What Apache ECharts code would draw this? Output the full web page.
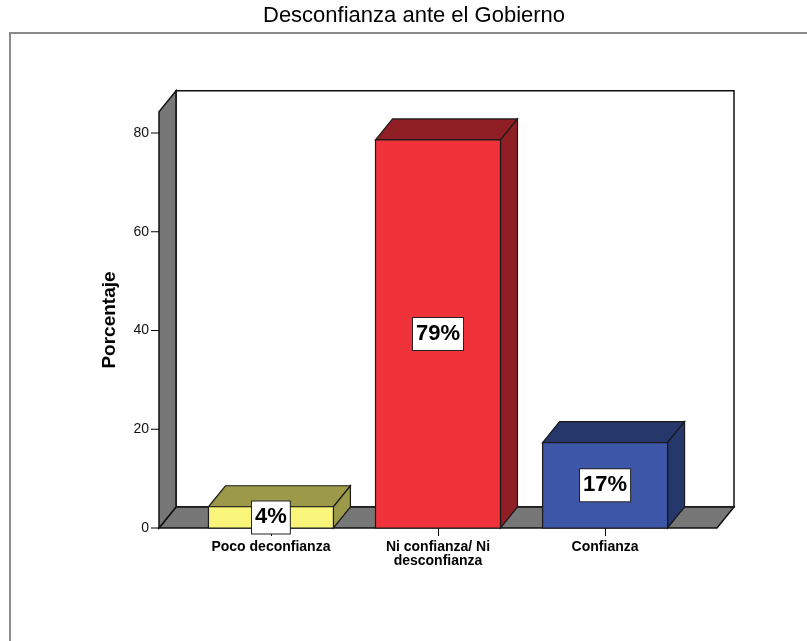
<!DOCTYPE html>
<html>
<head>
<meta charset="utf-8">
<title>Desconfianza ante el Gobierno</title>
<script src="https://cdn.jsdelivr.net/npm/echarts@6/dist/echarts.min.js"></script>
<style>
  html, body { margin: 0; padding: 0; background: #fff; }
  #chart { width: 807px; height: 641px; }
</style>
</head>
<body>
<div id="chart"></div>
<script>
// datos
var categorias = ['Poco deconfianza', 'Ni confianza/ Ni\ndesconfianza', 'Confianza'];
var porcentajes = [4.3, 78.6, 17.3];
var ticksY = [0, 20, 40, 60, 80];

var colorFrente = ['#f8f57a', '#f0333b', '#3e56a8'];
var colorLado = ['#9c9a48', '#8f1f24', '#26376b'];

var FONT = 'Liberation Sans, Arial, sans-serif';
var DX = 17, DY = -21;        // profundidad 3D (px)
var X_MIN = -0.67, X_MAX = 2.67;
var TECHO = 84.3;             // altura de las paredes (por encima del eje)
var MEDIO = 0.374;            // media anchura de barra

var chart = echarts.init(document.getElementById('chart'));

function mover(p) {
  return [p[0] + DX, p[1] + DY];
}

// pared del fondo, suelo, pared izquierda y marcas del eje Y
function dibujarCaja(params, api) {
  var a = api.coord([X_MIN, 0]);
  var b = api.coord([X_MAX, 0]);
  var c = api.coord([X_MIN, TECHO]);
  var a2 = mover(a), b2 = mover(b), c2 = mover(c);
  var hijos = [
    {
      type: 'rect',
      shape: { x: c2[0], y: c2[1], width: b2[0] - c2[0], height: b2[1] - c2[1] },
      style: { fill: '#fff', stroke: '#111', lineWidth: 1.5 }
    },
    {
      type: 'polygon',
      shape: { points: [a, b, b2, a2] },
      style: { fill: '#777', stroke: '#111', lineWidth: 1.5 }
    },
    {
      type: 'polygon',
      shape: { points: [a, a2, c2, c] },
      style: { fill: '#777', stroke: '#111', lineWidth: 1.5 }
    }
  ];
  ticksY.forEach(function (t) {
    var p = api.coord([X_MIN, t]);
    hijos.push({
      type: 'line',
      shape: { x1: p[0] - 8, y1: p[1], x2: p[0], y2: p[1] },
      style: { stroke: '#000', lineWidth: 1 }
    });
  });
  return { type: 'group', children: hijos };
}

function dibujarBarra(params, api) {
  var i = api.value(0), v = api.value(1);
  var p1 = api.coord([i - MEDIO, v]);
  var p2 = api.coord([i + MEDIO, v]);
  var p3 = api.coord([i + MEDIO, 0]);
  var p4 = api.coord([i - MEDIO, 0]);
  var borde = { stroke: '#1a1a1a', lineWidth: 1.2 };
  return {
    type: 'group',
    children: [
      {
        type: 'polygon',
        shape: { points: [p1, p2, mover(p2), mover(p1)] },
        style: Object.assign({ fill: colorLado[i] }, borde)
      },
      {
        type: 'polygon',
        shape: { points: [p2, p3, mover(p3), mover(p2)] },
        style: Object.assign({ fill: colorLado[i] }, borde)
      },
      {
        type: 'polygon',
        shape: { points: [p1, p2, p3, p4] },
        style: Object.assign({ fill: colorFrente[i] }, borde)
      },
      {
        type: 'text',
        x: (p1[0] + p2[0]) / 2,
        y: (p1[1] + p4[1]) / 2,
        style: {
          text: Math.round(v) + '%',
          fontFamily: FONT,
          fontSize: 22,
          fontWeight: 'bold',
          fill: '#000',
          align: 'center',
          verticalAlign: 'middle',
          backgroundColor: '#fff',
          borderColor: '#222',
          borderWidth: 1,
          padding: [6, 3, 4, 3]
        }
      }
    ]
  };
}

var option = {
  animation: false,
  backgroundColor: '#fff',
  title: {
    text: 'Desconfianza ante el Gobierno',
    left: 263,
    top: 5,
    padding: 0,
    textStyle: { fontFamily: FONT, fontSize: 22, fontWeight: 'normal', color: '#000' }
  },
  graphic: [
    {
      type: 'rect',
      shape: { x: 10, y: 33, width: 900, height: 700 },
      style: { fill: 'none', stroke: '#8a8a8a', lineWidth: 2 },
      silent: true
    }
  ],
  grid: [
    { left: 159, right: 90, top: 133, bottom: 113 },
    { left: 187.4, right: 118.4, top: 112, bottom: 113 }
  ],
  xAxis: [
    { type: 'value', gridIndex: 0, min: X_MIN, max: X_MAX, show: false },
    {
      type: 'category',
      gridIndex: 1,
      data: categorias,
      axisLine: { show: false },
      axisTick: { show: true, alignWithLabel: true, length: 8, lineStyle: { color: '#000', width: 1 } },
      axisLabel: {
        margin: 12,
        fontFamily: FONT,
        fontSize: 14,
        fontWeight: 'bold',
        color: '#000',
        lineHeight: 14
      },
      splitLine: { show: false }
    }
  ],
  yAxis: [
    {
      type: 'value',
      gridIndex: 0,
      min: 0,
      max: 80,
      interval: 20,
      axisLine: { show: true, lineStyle: { color: '#111', width: 1.5 } },
      axisTick: { show: true, length: 8, lineStyle: { color: '#000' } },
      axisLabel: { margin: 10, fontFamily: FONT, fontSize: 14, color: '#111' },
      splitLine: { show: false }
    },
    {
      type: 'value',
      gridIndex: 1,
      min: 0,
      max: TECHO,
      name: 'Porcentaje',
      nameLocation: 'middle',
      nameGap: 68,
      nameTextStyle: { fontFamily: FONT, fontSize: 19, fontWeight: 'bold', color: '#000' },
      axisLine: { show: false },
      axisTick: { show: false },
      axisLabel: { show: false },
      splitLine: { show: false }
    }
  ],
  series: [
    {
      type: 'custom',
      xAxisIndex: 0,
      yAxisIndex: 0,
      clip: false,
      silent: true,
      z: 1,
      renderItem: dibujarCaja,
      data: [[0, 0]]
    },
    {
      type: 'custom',
      xAxisIndex: 0,
      yAxisIndex: 0,
      clip: false,
      z: 2,
      renderItem: dibujarBarra,
      encode: { x: 0, y: 1 },
      data: porcentajes.map(function (v, i) { return [i, v]; })
    }
  ]
};

chart.setOption(option);
</script>
</body>
</html>
